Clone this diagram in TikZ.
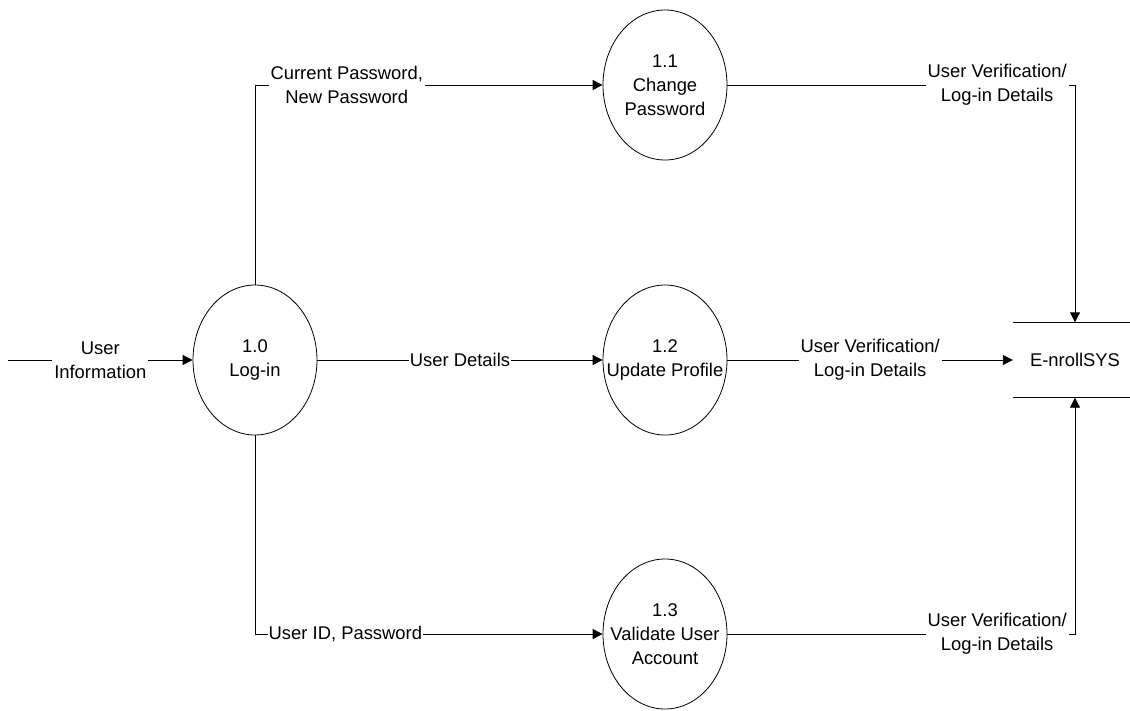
\documentclass[tikz,border=0pt]{standalone}
\usepackage{fontspec}
\setmainfont{Liberation Sans}
\usetikzlibrary{shapes.geometric, positioning, arrows.meta}
\tikzset{
    x=1pt, y=-1pt, % pixel grid of the picture
    flow/.style={draw, line width=0.9pt}, % every data flow line
    >={Triangle[length=10pt, width=10pt]}, % filled arrow heads
    process/.style={ellipse, draw, line width=0.8pt, minimum width=124pt, minimum height=150pt, inner xsep=-18pt, inner ysep=0pt, align=center}, % the process bubbles
    store/.style={minimum width=124pt, minimum height=75pt, inner sep=0pt}, % the data store
    flowlabel/.style={fill=white, inner sep=2pt, align=center}, % text sitting on a line
    node distance=410pt, % centre to centre, change if necessary
}

\begin{document}
\begin{tikzpicture}[font=\fontsize{18.4}{24}\selectfont]
    \useasboundingbox (0,0) rectangle (1130,710);
    \node[process] (login) at (255,360) {1.0\\Log-in};
    \node[process, right of=login] (upd) {1.2\\Update Profile};
    \node[store, right of=upd] (db) {E-nrollSYS};
    \node[process, above of=upd, node distance=275pt] (chg) {1.1\\Change\\Password};
    \node[process, below of=upd, node distance=274pt] (val) {1.3\\Validate User\\Account};
    \coordinate (src) at (8,360);
    \draw[line width=0.9pt] (db.north west) -- (db.north east)
                            (db.south west) -- (db.south east);
    \draw[flow, ->] (src) -- node[flowlabel] {User\\Information} (login);
    \draw[flow, ->] (login.north) |- node[flowlabel, pos=0.632] {Current Password,\\New Password} (chg.west);
    \draw[flow, ->] (login.east) -- node[flowlabel, inner sep=1pt] {User Details} (upd.west);
    \draw[flow, ->] (login.south) |- node[flowlabel, pos=0.63, inner sep=1pt] {User ID, Password} (val.west);
    \draw[flow, ->] (chg.east) -| node[flowlabel, pos=0.388] {User Verification/\\Log-in Details} (db.north);
    \draw[flow, ->] (upd.east) -- node[flowlabel] {User Verification/\\Log-in Details} (db.west);
    \draw[flow, ->] (val.east) -| node[flowlabel, pos=0.388] {User Verification/\\Log-in Details} (db.south);
\end{tikzpicture}
\end{document}
